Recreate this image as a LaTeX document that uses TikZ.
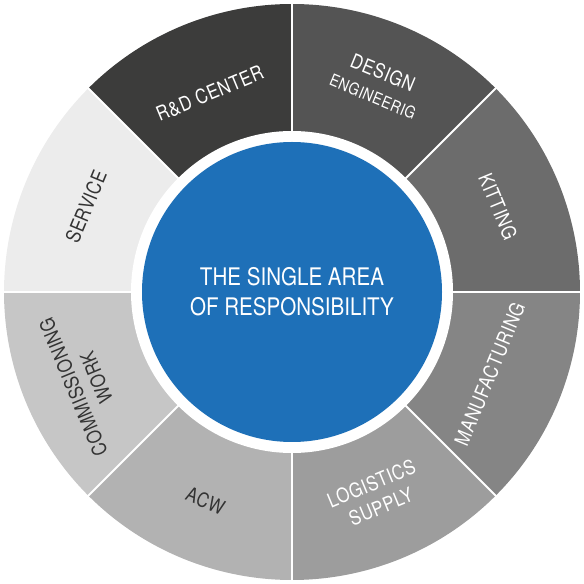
\documentclass[tikz,border=0pt]{standalone}
\usepackage{fontspec}
\setmainfont{TeX Gyre Heros}[FakeStretch=0.85]
\newfontfamily\segfont{TeX Gyre Heros}[FakeStretch=0.84, LetterSpace=3]
\usetikzlibrary{calc}
\definecolor{cRD}{HTML}{3C3C3B}
\definecolor{cDE}{HTML}{545454}
\definecolor{cKI}{HTML}{6C6C6C}
\definecolor{cMA}{HTML}{858585}
\definecolor{cLO}{HTML}{9D9D9D}
\definecolor{cAC}{HTML}{B2B2B2}
\definecolor{cCO}{HTML}{C6C6C6}
\definecolor{cSE}{HTML}{ECECEC}
\definecolor{cBL}{HTML}{1E70B8}
\definecolor{cTX}{HTML}{333333}
\begin{document}
\begin{tikzpicture}[x=1pt,y=1pt,
  lbl/.style={font=\segfont\fontsize{20}{25}\selectfont, align=center, inner sep=0pt},
  lbllight/.style={lbl, text=white},
  lbldark/.style={lbl, text=cTX},
  gap/.style={white, line width=2pt}]
\useasboundingbox (0,0) rectangle (584,584);
\coordinate (c) at (292,292);
\def\Ro{288}
% sectors
\foreach \a/\col in {90/cRD,45/cDE,0/cKI,-45/cMA,-90/cLO,-135/cAC,-180/cCO,135/cSE}{
  \fill[\col] (c) -- ++(\a:\Ro) arc[start angle=\a, delta angle=45, radius=\Ro] -- cycle;
}
% gaps
\foreach \a in {0,45,...,315}{
  \draw[gap] (c) -- ++(\a:\Ro+2);
}
\fill[white] (c) circle[radius=161];
\node[circle, fill=cBL, minimum size=300pt, inner sep=0pt] (core) at (c) {};
\node[text=white, align=center, font=\fontsize{24.2}{30}\selectfont] (title) at (c) {THE SINGLE AREA\\OF RESPONSIBILITY};
% labels
\node[lbllight, rotate=22.5] (rd) at ($(c)+(112.5:215)$) {R\&D CENTER};
\node[lbllight, rotate=-22.5, font=\segfont\fontsize{20}{25}\selectfont] (de) at ($(c)+(67.5:225)$) {DESIGN\\{\fontsize{16.5}{25}\selectfont ENGINEERIG}};
\node[lbllight, rotate=-67.5] (ki) at ($(c)+(22.5:223)$) {KITTING};
\node[lbllight, rotate=67.5] (ma) at ($(c)+(-22.5:214)$) {MANUFACTURING};
\node[lbllight, rotate=22.5] (lo) at ($(c)+(-67.5:220)$) {LOGISTICS\\SUPPLY};
\node[lbldark, rotate=-22.5] (ac) at ($(c)+(-112.5:226)$) {ACW};
\node[lbldark, rotate=112.5] (co) at ($(c)+(-156.5:226)$) {COMMISSIONING\\WORK};
\node[lbldark, rotate=67.5] (se) at ($(c)+(157.5:223)$) {SERVICE};
\end{tikzpicture}
\end{document}
